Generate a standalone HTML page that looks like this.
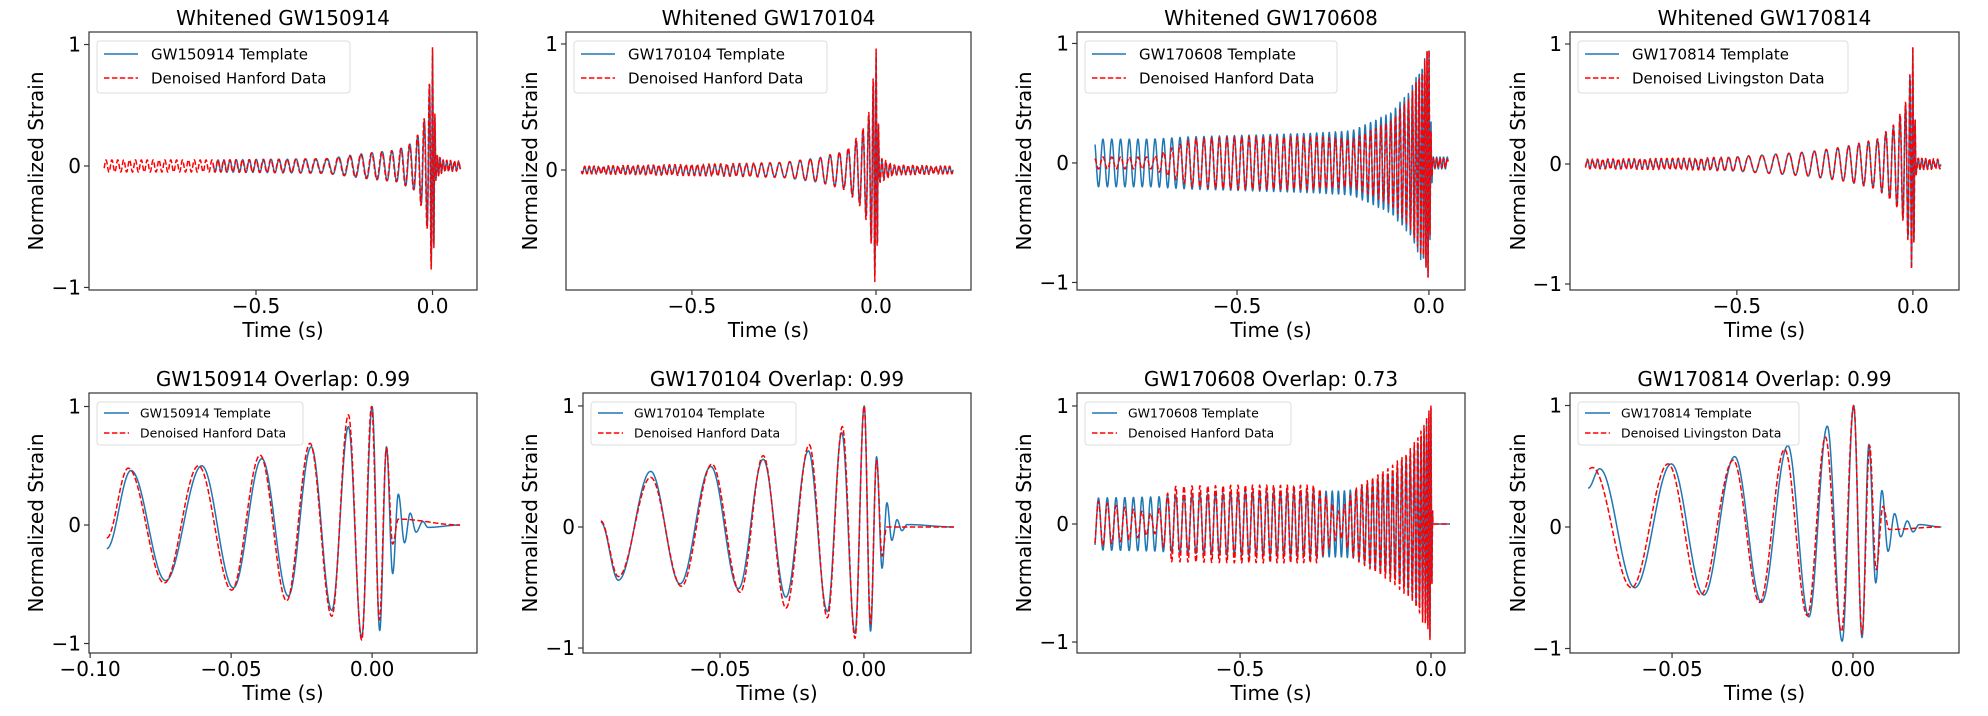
<!DOCTYPE html>
<html><head><meta charset="utf-8"><style>
html,body{margin:0;padding:0;background:#fff;}
svg{display:block;font-family:"DejaVu Sans","Liberation Sans",sans-serif;}
</style></head><body>
<svg id="fig" width="1988" height="716" viewBox="0 0 1988 716" xmlns="http://www.w3.org/2000/svg"></svg>
<script>
// ---------- DATA ----------
const p5BlueT=[-0.0941,-0.0855,-0.0732,-0.0604,-0.0492,-0.0391,-0.0297,-0.0216,-0.0143,-0.0084,-0.0037,0,0.0027,0.0051,0.0073,0.0093,0.0115,0.0135,0.0156,0.018,0.0198,0.0312];
const p5BlueV=[-0.20,0.46,-0.47,0.50,-0.53,0.56,-0.60,0.66,-0.72,0.83,-0.95,1.0,-0.89,0.66,-0.41,0.26,-0.15,0.10,-0.06,0.03,-0.02,0];
const p5RedT=[-0.0941,-0.0865,-0.0737,-0.0616,-0.0498,-0.0397,-0.0303,-0.022,-0.0143,-0.0084,-0.0037,-0.0002,0.0026,0.0051,0.0073,0.0093,0.0312];
const p5RedV=[-0.11,0.48,-0.49,0.50,-0.55,0.59,-0.64,0.69,-0.77,0.93,-0.97,1.0,-0.80,0.65,-0.16,0.05,0];
const p6BlueT=[-0.0914,-0.0853,-0.0741,-0.0639,-0.0532,-0.0436,-0.035,-0.0271,-0.0193,-0.0127,-0.0077,-0.0031,0.0001,0.0023,0.0044,0.0063,0.008,0.0097,0.0115,0.0132,0.015,0.0313];
const p6BlueV=[0.04,-0.44,0.46,-0.47,0.50,-0.51,0.56,-0.58,0.63,-0.70,0.78,-0.88,1.0,-0.86,0.58,-0.34,0.20,-0.11,0.06,-0.03,0.02,0];
const p6RedT=[-0.0914,-0.0853,-0.0741,-0.0634,-0.0528,-0.043,-0.035,-0.0271,-0.019,-0.0127,-0.0075,-0.0031,0.0001,0.0023,0.0044,0.0063,0.0079,0.0313];
const p6RedV=[0.05,-0.41,0.41,-0.49,0.52,-0.54,0.59,-0.67,0.68,-0.75,0.83,-0.92,1.0,-0.80,0.55,-0.24,0.0,0];
const p8BlueT=[-0.0732,-0.070,-0.0603,-0.0502,-0.0412,-0.0327,-0.0253,-0.018,-0.0122,-0.0071,-0.003,0.0002,0.0025,0.0044,0.0063,0.008,0.0097,0.0115,0.0132,0.015,0.0166,0.0183,0.0244];
const p8BlueV=[0.32,0.48,-0.50,0.52,-0.56,0.58,-0.62,0.67,-0.74,0.83,-0.94,1.0,-0.91,0.68,-0.46,0.30,-0.20,0.11,-0.08,0.05,-0.04,0.02,0];
const p8RedT=[-0.0729,-0.072,-0.0612,-0.0511,-0.0421,-0.0331,-0.0258,-0.0189,-0.0126,-0.0076,-0.0032,0.0002,0.0025,0.0046,0.0064,0.0083,0.01,0.0244];
const p8RedV=[0.48,0.49,-0.50,0.52,-0.56,0.55,-0.62,0.64,-0.73,0.74,-0.86,1.0,-0.88,0.67,-0.35,0.17,-0.02,0];
const p1T=[-0.93,-0.6,-0.3,-0.2,-0.1,-0.05,-0.02,-0.01,0,0.005,0.01,0.03,0.08];
const p1RedA=[0.05,0.05,0.06,0.10,0.13,0.20,0.42,0.66,0.98,0.6,0.10,0.05,0.04];
const p1BlueA=[0.05,0.05,0.06,0.10,0.13,0.20,0.40,0.62,0.95,0.6,0.10,0.04,0.03];
const p1F=[60,60,30,32,38,45,60,80,140,150,150,100,80];
const p2T=[-0.8,-0.4,-0.25,-0.15,-0.08,-0.04,-0.02,-0.01,0,0.005,0.01,0.05,0.21];
const p2RedA=[0.03,0.05,0.06,0.10,0.16,0.30,0.45,0.65,1.0,0.5,0.10,0.04,0.03];
const p2BlueA=[0.02,0.04,0.06,0.10,0.15,0.28,0.42,0.62,0.95,0.5,0.08,0.03,0.02];
const p2F=[80,60,35,37,42,55,70,90,150,160,100,80,80];
const p3T=[-0.87,-0.72,-0.62,-0.5,-0.3,-0.2,-0.1,-0.05,-0.02,0,0.006,0.01,0.05];
const p3BlueA=[0.2,0.2,0.22,0.23,0.25,0.27,0.42,0.6,0.82,0.97,0.3,0.05,0.05];
const p3RedA=[0.05,0.05,0.2,0.22,0.22,0.2,0.35,0.55,0.78,0.98,0.2,0.04,0.04];
const p3F=[43,45,48,52,60,64,80,95,130,200,200,120,100];
const p4T=[-0.93,-0.6,-0.45,-0.3,-0.2,-0.1,-0.05,-0.02,-0.01,0,0.005,0.01,0.08];
const p4BlueA=[0.03,0.04,0.07,0.10,0.14,0.20,0.32,0.50,0.70,0.97,0.5,0.05,0.02];
const p4RedA=[0.04,0.05,0.07,0.10,0.14,0.21,0.34,0.52,0.72,0.98,0.5,0.05,0.04];
const p4F=[70,60,25,28,32,40,50,70,90,150,160,100,80];
const p7T=[-0.88,-0.72,-0.68,-0.5,-0.3,-0.24,-0.2,-0.1,-0.05,-0.02,0,0.005,0.05];
const p7BlueA=[0.22,0.23,0.24,0.27,0.28,0.28,0.29,0.45,0.6,0.8,0.98,0,0];
const p7RedA=[0.2,0.08,0.32,0.33,0.33,0.1,0.3,0.5,0.65,0.85,1.0,0,0];
const p7F=[43,45,46,52,60,63,66,80,95,130,200,200,200];
// ---------- LAYOUT ----------
const panels=[
 {id:'whitened-gw150914',title:'Whitened GW150914',L:89,R:477,T:32,B:290,x0:-0.973,x1:0.126,y0:-1.021,y1:1.103,xt:[-0.5,0],xl:['−0.5','0.0'],yt:[-1,0,1],yl:['−1','0','1'],ylx:36,leg:['GW150914 Template','Denoised Hanford Data'],lw:253,big:true,
  series:[{k:'chirp',T:p1T,A:p1BlueA,F:p1F,s:-0.62,e:0.08,c:'blue'},{k:'chirp',T:p1T,A:p1RedA,F:p1F,s:-0.93,e:0.08,c:'red'}]},
 {id:'whitened-gw170104',title:'Whitened GW170104',L:566,R:971,T:32,B:290,x0:-0.842,x1:0.258,y0:-0.952,y1:1.095,xt:[-0.5,0],xl:['−0.5','0.0'],yt:[0,1],yl:['0','1'],ylx:530,leg:['GW170104 Template','Denoised Hanford Data'],lw:253,big:true,
  series:[{k:'chirp',T:p2T,A:p2BlueA,F:p2F,s:-0.8,e:0.21,c:'blue'},{k:'chirp',T:p2T,A:p2RedA,F:p2F,s:-0.8,e:0.21,c:'red'}]},
 {id:'whitened-gw170608',title:'Whitened GW170608',L:1077,R:1465,T:32,B:290,x0:-0.917,x1:0.094,y0:-1.063,y1:1.096,xt:[-0.5,0],xl:['−0.5','0.0'],yt:[-1,0,1],yl:['−1','0','1'],ylx:1024,leg:['GW170608 Template','Denoised Hanford Data'],lw:252,big:true,
  series:[{k:'chirp',T:p3T,A:p3BlueA,F:p3F,s:-0.87,e:0.05,c:'blue'},{k:'chirp',T:p3T,A:p3RedA,F:p3F,s:-0.87,e:0.05,c:'red'}]},
 {id:'whitened-gw170814',title:'Whitened GW170814',L:1570,R:1959,T:32,B:290,x0:-0.974,x1:0.131,y0:-1.05,y1:1.1,xt:[-0.5,0],xl:['−0.5','0.0'],yt:[-1,0,1],yl:['−1','0','1'],ylx:1518,leg:['GW170814 Template','Denoised Livingston Data'],lw:270,big:true,
  series:[{k:'chirp',T:p4T,A:p4BlueA,F:p4F,s:-0.93,e:0.08,c:'blue'},{k:'chirp',T:p4T,A:p4RedA,F:p4F,s:-0.93,e:0.08,c:'red'}]},
 {id:'overlap-gw150914',title:'GW150914 Overlap: 0.99',L:89,R:477,T:393,B:653,x0:-0.1004,x1:0.0372,y0:-1.08,y1:1.114,xt:[-0.1,-0.05,0],xl:['−0.10','−0.05','0.00'],yt:[-1,0,1],yl:['−1','0','1'],ylx:36,leg:['GW150914 Template','Denoised Hanford Data'],lw:206,big:false,
  series:[{k:'ext',T:p5BlueT,V:p5BlueV,c:'blue'},{k:'ext',T:p5RedT,V:p5RedV,c:'red'}]},
 {id:'overlap-gw170104',title:'GW170104 Overlap: 0.99',L:583,R:971,T:393,B:653,x0:-0.0976,x1:0.0372,y0:-1.041,y1:1.107,xt:[-0.05,0],xl:['−0.05','0.00'],yt:[-1,0,1],yl:['−1','0','1'],ylx:530,leg:['GW170104 Template','Denoised Hanford Data'],lw:205,big:false,
  series:[{k:'ext',T:p6BlueT,V:p6BlueV,c:'blue'},{k:'ext',T:p6RedT,V:p6RedV,c:'red'}]},
 {id:'overlap-gw170608',title:'GW170608 Overlap: 0.73',L:1077,R:1465,T:393,B:653,x0:-0.927,x1:0.089,y0:-1.093,y1:1.11,xt:[-0.5,0],xl:['−0.5','0.0'],yt:[-1,0,1],yl:['−1','0','1'],ylx:1024,leg:['GW170608 Template','Denoised Hanford Data'],lw:206,big:false,
  series:[{k:'chirp',T:p7T,A:p7BlueA,F:p7F,s:-0.88,e:0.05,c:'blue'},{k:'chirp',T:p7T,A:p7RedA,F:p7F,s:-0.88,e:0.05,c:'red'}]},
 {id:'overlap-gw170814',title:'GW170814 Overlap: 0.99',L:1570,R:1959,T:393,B:653,x0:-0.0782,x1:0.0293,y0:-1.037,y1:1.103,xt:[-0.05,0],xl:['−0.05','0.00'],yt:[-1,0,1],yl:['−1','0','1'],ylx:1518,leg:['GW170814 Template','Denoised Livingston Data'],lw:221,big:false,
  series:[{k:'ext',T:p8BlueT,V:p8BlueV,c:'blue'},{k:'ext',T:p8RedT,V:p8RedV,c:'red'}]}
];
const NS='http://www.w3.org/2000/svg';
const svg=document.getElementById('fig');
function mk(tag,attrs,parent){const e=document.createElementNS(NS,tag);for(const k in attrs)e.setAttribute(k,attrs[k]);(parent||svg).appendChild(e);return e;}
function lerp(T,A,t){if(t<=T[0])return A[0];for(let i=0;i<T.length-1;i++){if(t<=T[i+1]){const s=(t-T[i])/(T[i+1]-T[i]);return A[i]+(A[i+1]-A[i])*s;}}return A[A.length-1];}
function extPts(T,V,n){const pts=[];for(let i=0;i<T.length-1;i++){for(let j=0;j<n;j++){const s=j/n;pts.push([T[i]+(T[i+1]-T[i])*s,V[i]+(V[i+1]-V[i])*(1-Math.cos(Math.PI*s))/2]);}}pts.push([T[T.length-1],V[V.length-1]]);return pts;}
function chirpPts(T,A,F,s,e,dt){const ts=[],ph=[];let p=0;for(let t=s;t<=e+1e-9;t+=dt){ts.push(t);ph.push(p);p+=2*Math.PI*lerp(T,F,t)*dt;}
 let i0=0;for(let i=0;i<ts.length;i++){if(Math.abs(ts[i])<Math.abs(ts[i0]))i0=i;}const off=Math.PI/2-ph[i0];
 return ts.map((t,i)=>[t,lerp(T,A,t)*Math.sin(ph[i]+off)]);}
const COL={blue:'#1f77b4',red:'#ff0000'};
panels.forEach((P,pi)=>{
 const g=mk('g',{});
 
 
 const X=v=>P.L+(v-P.x0)/(P.x1-P.x0)*(P.R-P.L);
 const Y=v=>P.B-(v-P.y0)/(P.y1-P.y0)*(P.B-P.T);
 const clipId='clip'+pi;
 const cp=mk('clipPath',{id:clipId},g);mk('rect',{x:P.L,y:P.T,width:P.R-P.L,height:P.B-P.T},cp);
 const sg=mk('g',{'clip-path':'url(#'+clipId+')'},g);
 P.series.forEach(S=>{
  let pts;
  if(S.k==='ext')pts=extPts(S.T,S.V,24);
  else pts=chirpPts(S.T,S.A,S.F,S.s,S.e,(P.x1-P.x0)/((P.R-P.L)*3));
  const d='M'+pts.map(p=>X(p[0]).toFixed(2)+','+Y(p[1]).toFixed(2)).join('L');
  const path=mk('path',{d:d,fill:'none',stroke:COL[S.c],'stroke-width':1.5,'stroke-linejoin':'round'},sg);
  if(S.c==='red')path.setAttribute('stroke-dasharray','5.5,2.4');
  
  
 });
 const frame=mk('rect',{x:P.L,y:P.T,width:P.R-P.L,height:P.B-P.T,fill:'none',stroke:'#333','stroke-width':1.2},g);
 
 
 const fs=20;
 P.xt.forEach((v,i)=>{const x=X(v);mk('line',{x1:x,y1:P.B,x2:x,y2:P.B+5,stroke:'#333','stroke-width':1.2},g);
  const t=mk('text',{x:x,y:P.B+23,'font-size':fs,'text-anchor':'middle',fill:'#000'},g);t.textContent=P.xl[i];
  
  });
 P.yt.forEach((v,i)=>{const y=Y(v);mk('line',{x1:P.L,y1:y,x2:P.L-5,y2:y,stroke:'#333','stroke-width':1.2},g);
  const t=mk('text',{x:P.L-8,y:y+7,'font-size':fs,'text-anchor':'end',fill:'#000'},g);t.textContent=P.yl[i];
  
  });
 const tt=mk('text',{x:(P.L+P.R)/2,y:P.T-7,'font-size':fs,'text-anchor':'middle',fill:'#000'},g);tt.textContent=P.title;
 
 
 const xl=mk('text',{x:(P.L+P.R)/2,y:P.B+47,'font-size':fs,'text-anchor':'middle',fill:'#000'},g);xl.textContent='Time (s)';
 
 
 const yc=(P.T+P.B)/2;
 const yl=mk('text',{x:P.ylx,y:yc,'font-size':fs,'text-anchor':'middle','dominant-baseline':'central',transform:'rotate(-90 '+P.ylx+' '+yc+')',fill:'#000'},g);yl.textContent='Normalized Strain';
 
 
 const lg=mk('g',{},g);
 
 
 const lx=P.L+8,ly=P.T+9,lh=P.big?52:43,lfs=P.big?15:12.5,row=P.big?24:20;
 mk('rect',{x:lx,y:ly,width:P.lw,height:lh,rx:3,fill:'#fff','fill-opacity':0.8,stroke:'#ddd','stroke-width':1},lg);
 [0,1].forEach(i=>{const yy=ly+(P.big?13:11)+i*row;const c=i?COL.red:COL.blue;
  const ln=mk('line',{x1:lx+7,y1:yy,x2:lx+(P.big?41:32),y2:yy,stroke:c,'stroke-width':1.5},lg);
  if(i)ln.setAttribute('stroke-dasharray','5.5,2.4');
  const tx=mk('text',{x:lx+(P.big?54:43),y:yy+lfs*0.36,'font-size':lfs,fill:'#000'},lg);tx.textContent=P.leg[i];
  
  });
});
</script>
</body></html>
